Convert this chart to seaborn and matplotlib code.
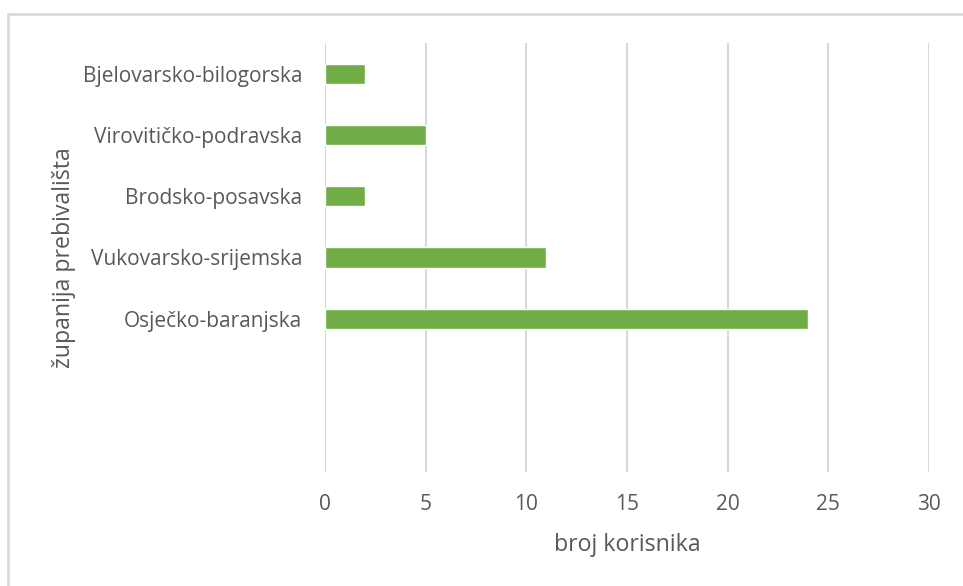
import matplotlib
matplotlib.use("Agg")
import matplotlib.pyplot as plt
import seaborn as sns
import pandas as pd
from matplotlib.patches import Rectangle

categories = ["Bjelovarsko-bilogorska", "Virovitičko-podravska", "Brodsko-posavska",
              "Vukovarsko-srijemska", "Osječko-baranjska"]
values = [2, 5, 2, 11, 24]
xticks = [0, 5, 10, 15, 20, 25, 30]

df = pd.DataFrame({"zupanija": categories, "broj": values})

sns.set_theme(style="white")
plt.rcParams["font.family"] = ["Open Sans", "DejaVu Sans"]

W, H = 963, 586
fig = plt.figure(figsize=(W / 100, H / 100), dpi=100)
ax = fig.add_axes([325 / W, 1 - 472 / H, (929 - 325) / W, (472 - 43) / H])

sns.barplot(data=df, x="broj", y="zupanija", order=categories, color="#70AD47",
            saturation=1, width=0.33, ax=ax)

ax.set_xlim(0, 30)
ax.set_ylim(6.5, -0.5)
ax.set_xticks(xticks)
ax.set_xticklabels([str(t) for t in xticks])
for x in xticks:
    ax.axvline(x, color="#D9D9D9", lw=1.5, zorder=0)
for s in ax.spines.values():
    s.set_visible(False)
ax.tick_params(axis="both", length=0, colors="#595959", labelsize=15)
ax.tick_params(axis="x", pad=16)
ax.tick_params(axis="y", pad=16.5)
ax.set_xlabel("broj korisnika", color="#595959", fontsize=16.7, labelpad=13)
ax.set_ylabel("županija prebivališta", color="#595959", fontsize=16.7, labelpad=5)

fig.patches.append(Rectangle((8 / W, -0.1), 1.2, 1 - 14 / H + 0.1, transform=fig.transFigure,
                             fill=False, edgecolor="#D9D9D9", lw=2))

fig.savefig("out.png", dpi=100)
